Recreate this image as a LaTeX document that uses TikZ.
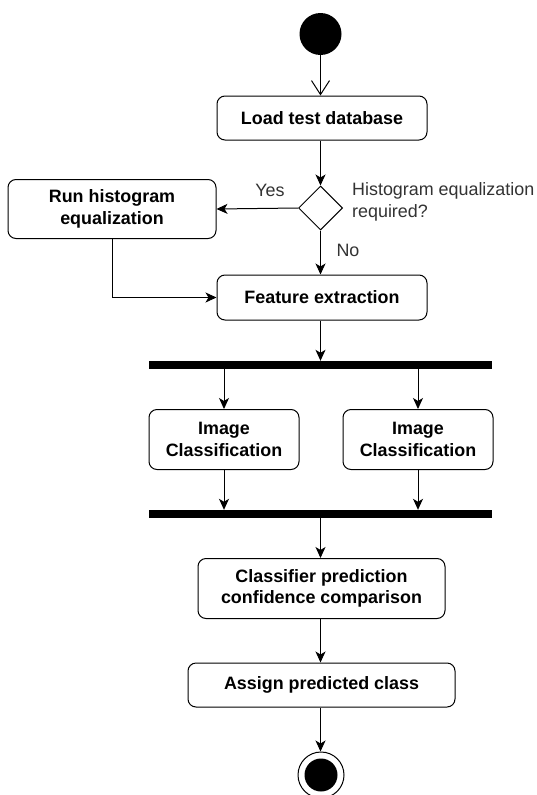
\documentclass[tikz,border=0pt]{standalone}
\usepackage{fontspec}
\setmainfont{Liberation Sans}
\usetikzlibrary{arrows.meta,shapes.geometric}
\begin{document}
\begin{tikzpicture}[x=1pt,y=-1pt,
  box/.style={draw, rounded corners=8pt, line width=1pt, font=\bfseries\fontsize{17.9}{21.5}\selectfont, align=center, inner sep=0pt},
  lbl/.style={font=\fontsize{17.9}{21.5}\selectfont, text=black!80, inner sep=0pt},
  arr/.style={-{Stealth[length=11pt,width=10pt,inset=3pt]}, line width=1pt},
  openarr/.style={-{Straight Barb[length=14pt,width=18pt]}, line width=1pt},
  bar/.style={fill=black, draw=none, inner sep=0pt, minimum height=8pt}]
\path[use as bounding box, fill=white] (0,0) rectangle (536,795);
\node[circle, fill=black, minimum size=42pt, inner sep=0pt] (start) at (320.5,34) {};
\node[box, minimum width=210pt, minimum height=44pt] (load) at (322,118) {Load test database};
\node[diamond, draw, line width=1pt, minimum width=44pt, minimum height=44pt, inner sep=0pt] (dia) at (320.5,208) {};
\node[box, minimum width=208pt, minimum height=59pt] (run) at (112,209) {Run histogram\\equalization};
\node[box, minimum width=210pt, minimum height=45pt] (feat) at (322,297.5) {Feature extraction};
\node[bar, minimum width=343pt] (bar1) at (320.5,365) {};
\node[box, minimum width=150pt, minimum height=60pt] (icl) at (224,439.5) {Image\\Classification};
\node[box, minimum width=150pt, minimum height=60pt] (icr) at (418,439.5) {Image\\Classification};
\node[bar, minimum width=343pt] (bar2) at (320.5,514) {};
\node[box, minimum width=247pt, minimum height=60pt] (cls) at (321.5,588.5) {Classifier prediction\\confidence comparison};
\node[box, minimum width=267pt, minimum height=44pt] (assign) at (321.5,685) {Assign predicted class};
\node[circle, draw, line width=1pt, minimum size=46pt, inner sep=0pt] (endo) at (321,775) {};
\node[circle, fill=black, minimum size=33pt, inner sep=0pt] (endi) at (321,775) {};
\node[lbl] (yes) at (270,190) {Yes};
\node[lbl] (no) at (348,250) {No};
\node[lbl, anchor=west, align=left] (q) at (352,202) {Histogram equalization\\required?};
\draw[openarr] (start.south) -- (start.south |- load.north);
\draw[arr] (load.south -| dia.north) -- (dia.north);
\draw[arr] (dia.west) -- (run.east);
\draw[arr] (dia.south) -- (dia.south |- feat.north);
\draw[arr] (run.south) |- (feat.west);
\draw[arr] (feat.south -| bar1.north) -- (bar1.north);
\draw[arr] (bar1.south -| icl.north) -- (icl.north);
\draw[arr] (bar1.south -| icr.north) -- (icr.north);
\draw[arr] (icl.south) -- (icl.south |- bar2.north);
\draw[arr] (icr.south) -- (icr.south |- bar2.north);
\draw[arr] (bar2.south) -- (bar2.south |- cls.north);
\draw[arr] (cls.south -| bar2.south) -- (bar2.south |- assign.north);
\draw[arr] (assign.south -| bar2.south) -- (bar2.south |- endo.north);
\end{tikzpicture}
\end{document}
